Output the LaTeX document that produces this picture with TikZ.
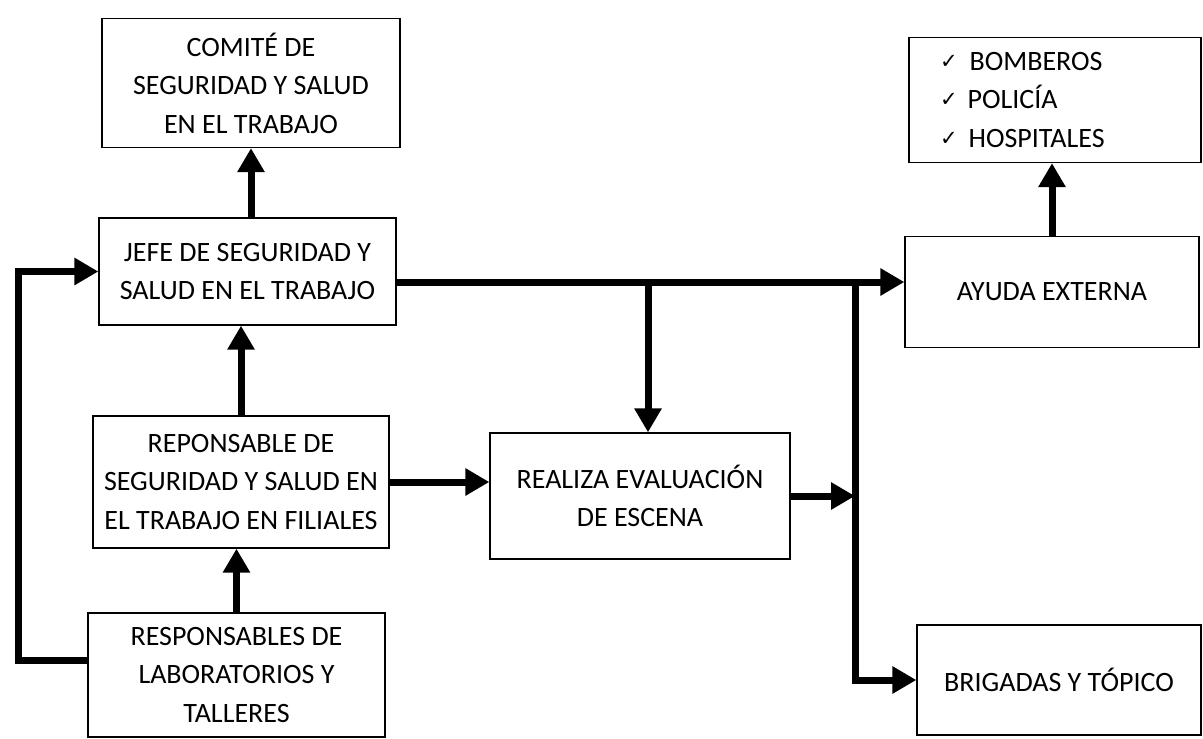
\documentclass[tikz,border=0pt]{standalone}
\usepackage{fontspec}
\setmainfont{Carlito}
\newfontfamily\symfont{DejaVu Sans}
\usetikzlibrary{arrows.meta,calc}
\newcommand{\ckm}{{\symfont\fontsize{21}{38}\selectfont\raisebox{2pt}{✓}}}
\begin{document}
\begin{tikzpicture}[x=1pt,y=-1pt,
  box/.style={draw, line width=1.3pt, rectangle, align=center, inner sep=0pt,
    font=\fontsize{28}{38.5}\selectfont},
  arr/.style={line width=7pt, -{Triangle[width=26pt,length=24pt]}},
  con/.style={line width=7pt}]
\useasboundingbox (0,0) rectangle (1203,739);
\fill[white] (0,0) rectangle (1203,739);
% boxes
\node[box, minimum width=298pt, minimum height=129pt] (com) at (251,83)
  {COMITÉ DE\\SEGURIDAD Y SALUD\\EN EL TRABAJO};
\node[box, minimum width=297pt, minimum height=107pt] (jefe) at (247.5,271.5)
  {JEFE DE SEGURIDAD Y\\SALUD EN EL TRABAJO};
\node[box, minimum width=296pt, minimum height=132pt] (rep) at (241,482)
  {REPONSABLE DE\\SEGURIDAD Y SALUD EN\\EL TRABAJO EN FILIALES};
\node[box, minimum width=297pt, minimum height=124pt] (lab) at (236.5,675)
  {RESPONSABLES DE\\LABORATORIOS Y\\TALLERES};
\node[box, minimum width=300pt, minimum height=126pt] (rea) at (640,496)
  {REALIZA EVALUACIÓN\\DE ESCENA};
\node[box, minimum width=292pt, minimum height=125pt, text width=230pt, align=left, inner xsep=31pt] (bom) at (1055,100)
  {\ckm\hspace{12pt}BOMBEROS\\
   \ckm\hspace{10pt}POLICÍA\\
   \ckm\hspace{11pt}HOSPITALES};
\node[box, minimum width=294pt, minimum height=111pt] (ayu) at (1052,292)
  {AYUDA EXTERNA};
\node[box, minimum width=284pt, minimum height=110pt] (bri) at (1059,680)
  {BRIGADAS Y TÓPICO};
% helper coordinates
\coordinate (main) at (0,282);
\coordinate (bus) at (855,282);
\coordinate (lp) at (18,660);
% vertical arrows
\draw[arr] (jefe.north -| com.south) -- (com.south);
\draw[arr] (rep.north) -- (rep.north |- jefe.south);
\draw[arr] (lab.north) -- (lab.north |- rep.south);
% loop from lab to jefe
\draw[arr] (lab.west |- lp) -- (lp) -- (lp |- jefe.west) -- (jefe.west);
% main line
\draw[arr] (jefe.east |- main) -- (ayu.west |- main);
\draw[arr] ([xshift=8pt]rea.north |- main) -- ([xshift=8pt]rea.north);
\draw[arr] (ayu.north) -- (ayu.north |- bom.south);
% bus
\draw[con] (bus) -- (bus |- bri.west);
\draw[arr] ([xshift=-3.5pt]bus |- bri.west) -- (bri.west);
\draw[arr] (rep.east) -- (rep.east -| rea.west);
\draw[arr] (rea.east) -- (rea.east -| bus);
\end{tikzpicture}
\end{document}
